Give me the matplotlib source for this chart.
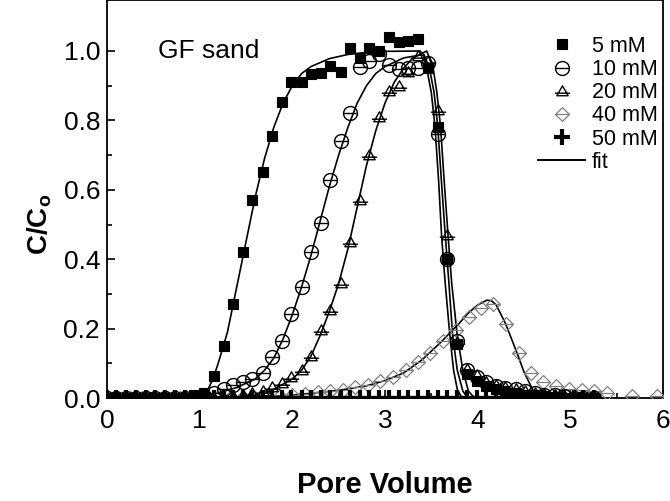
import matplotlib
matplotlib.use("Agg")
import matplotlib.pyplot as plt
from matplotlib.path import Path
from matplotlib.lines import Line2D

plt.rcParams.update({
    "font.family": ["Liberation Sans", "DejaVu Sans"],
    "mathtext.fontset": "custom",
    "mathtext.rm": "Liberation Sans",
    "mathtext.bf": "Liberation Sans:bold",
})

# ── Data ──────────────────────────────────────────────────────────────────────
PV = [0.00, 0.10, 0.21, 0.31, 0.42, 0.52, 0.63, 0.73, 0.84, 0.94,
      1.05, 1.15, 1.26, 1.36, 1.47, 1.57, 1.68, 1.78, 1.89, 1.99,
      2.10, 2.20, 2.31, 2.41, 2.52, 2.62, 2.73, 2.83, 2.94, 3.04,
      3.15, 3.25, 3.36, 3.46, 3.57, 3.67, 3.78, 3.88, 3.99, 4.09,
      4.20, 4.30, 4.41, 4.51, 4.62, 4.72, 4.83, 4.93, 5.04, 5.14, 5.25]

C_5MM = [0, 0, 0, 0, 0, 0, 0, 0, 0, 0.01,
         0.015, 0.064, 0.15, 0.27, 0.42, 0.57, 0.65, 0.755, 0.853, 0.912,
         0.912, 0.933, 0.936, 0.957, 0.94, 1.01, 0.98, 1.01, 1.00, 1.04,
         1.027, 1.03, 1.035, 0.95, 0.78, 0.40, 0.155, 0.07, 0.05, 0.035,
         0.025, 0.02, 0.015, 0.01, 0.008, 0.005, 0.003, 0, 0, 0, 0]

C_10MM = [0, 0, 0, 0, 0, 0, 0, 0, 0, 0,
          0.005, 0.015, 0.027, 0.037, 0.045, 0.056, 0.072, 0.117, 0.163, 0.243,
          0.32, 0.42, 0.504, 0.627, 0.74, 0.82, 0.955, 0.97, 0.99, 0.96,
          0.947, 0.95, 0.95, 0.965, 0.76, 0.40, 0.165, 0.08, 0.06, 0.045,
          0.035, 0.03, 0.025, 0.02, 0.015, 0.01, 0.01, 0.005, 0, 0, 0]

C_20MM = [0, 0, 0, 0, 0, 0, 0, 0, 0, 0,
          0, 0, 0, 0.005, 0.01, 0.015, 0.02, 0.032, 0.043, 0.06,
          0.08, 0.12, 0.195, 0.255, 0.33, 0.45, 0.57, 0.70, 0.81, 0.885,
          0.90, 0.94, 0.985, 0.97, 0.83, 0.47, 0.16, 0.085, 0.065, 0.045,
          0.037, 0.032, 0.025, 0.02, 0.015, 0.012, 0.01, 0.008, 0.005, 0, 0]

C_50MM = [0, 0, 0, 0, 0, 0, 0, 0, 0, 0,
          0, 0, 0, 0, 0, 0, 0, 0, 0, 0,
          0, 0, 0, 0, 0, 0, 0, 0, 0, 0,
          0, 0, 0, 0, 0, 0, 0, 0, 0, 0,
          0, 0, 0, 0, 0, 0, 0, 0, 0, 0, 0]

PV_40 = [0.11, 0.25, 0.38, 0.52, 0.65, 0.79, 0.92, 1.06, 1.19, 1.33,
         1.46, 1.60, 1.73, 1.87, 2.00, 2.14, 2.28, 2.41, 2.55, 2.68,
         2.82, 2.95, 3.09, 3.23, 3.36, 3.49, 3.63, 3.77, 3.91, 4.04,
         4.17, 4.31, 4.45, 4.58, 4.71, 4.85, 4.99, 5.13, 5.26, 5.40,
         5.67, 5.93]
C_40MM = [0, 0, 0, 0, 0, 0, 0, 0, 0, 0,
          0, 0, 0.003, 0.005, 0.008, 0.012, 0.017, 0.02, 0.024, 0.032,
          0.037, 0.048, 0.061, 0.08, 0.104, 0.13, 0.165, 0.197, 0.232, 0.258,
          0.272, 0.213, 0.13, 0.072, 0.045, 0.035, 0.027, 0.024, 0.019, 0.013,
          0.005, 0.005]

# fitted curves
FIT5_X = [0.0, 1.0, 1.05, 1.1, 1.15, 1.2, 1.3, 1.4, 1.5, 1.6, 1.7, 1.8, 1.9, 2.0,
          2.1, 2.2, 2.4, 2.6, 2.8, 3.0, 3.38, 3.42, 3.45, 3.5, 3.54, 3.58, 3.61,
          3.65, 3.7, 3.74, 3.78, 3.82, 3.87, 5.3]
FIT5_Y = [0.0, 0.0, 0.005, 0.03, 0.06, 0.1, 0.19, 0.32, 0.45, 0.58, 0.69, 0.78, 0.85, 0.9,
          0.935, 0.955, 0.978, 0.99, 0.996, 0.999, 1.0, 0.985, 0.95, 0.88, 0.78, 0.62, 0.47,
          0.33, 0.18, 0.08, 0.025, 0.005, 0.0, 0.0]

FIT10_X = [0.0, 1.0, 1.2, 1.4, 1.6, 1.7, 1.8, 1.9, 2.0, 2.1, 2.2, 2.3, 2.4, 2.5, 2.6,
           2.7, 2.8, 2.9, 3.0, 3.2, 3.42, 3.48, 3.53, 3.57, 3.61, 3.65, 3.69, 3.73,
           3.78, 3.84, 3.88, 3.93, 5.3]
FIT10_Y = [0.0, 0.0, 0.015, 0.03, 0.055, 0.08, 0.115, 0.17, 0.24, 0.32, 0.41, 0.51, 0.61, 0.70, 0.78,
           0.85, 0.9, 0.935, 0.955, 0.98, 0.99, 0.95, 0.88, 0.78, 0.62, 0.47, 0.33, 0.18,
           0.08, 0.02, 0.005, 0.0, 0.0]

FIT20_X = [0.0, 1.4, 1.6, 1.8, 2.0, 2.1, 2.2, 2.3, 2.4, 2.5, 2.6, 2.7, 2.8, 2.9, 3.0,
           3.1, 3.2, 3.3, 3.45, 3.52, 3.56, 3.6, 3.64, 3.68, 3.72, 3.78, 3.84, 3.9,
           3.95, 4.0, 5.3]
FIT20_Y = [0.0, 0.0, 0.008, 0.025, 0.055, 0.08, 0.12, 0.18, 0.25, 0.33, 0.43, 0.55, 0.67, 0.77, 0.85,
           0.91, 0.95, 0.98, 1.0, 0.95, 0.88, 0.78, 0.62, 0.47, 0.33, 0.18, 0.08, 0.02,
           0.005, 0.0, 0.0]

FIT40_X = [0.0, 1.5, 2.0, 2.5, 2.8, 3.0, 3.2, 3.4, 3.6, 3.8, 3.9, 4.0, 4.1, 4.15,
           4.2, 4.3, 4.42, 4.5, 4.57, 4.64, 5.3]
FIT40_Y = [0.0, 0.0, 0.008, 0.022, 0.035, 0.05, 0.072, 0.11, 0.16, 0.215, 0.245, 0.268, 0.282, 0.28,
           0.268, 0.215, 0.133, 0.075, 0.037, 0.0, 0.0]

LABELS = ["5 mM", "10 mM", "20 mM", "40 mM", "50 mM", "fit"]

GREY = "#808080"

# ── Custom markers: open shapes crossed by a horizontal bar ───────────────────
def _with_bar(shape, half_width, y=0.0):
    bar = Path([(-half_width, y), (half_width, y)], [Path.MOVETO, Path.LINETO])
    return Path.make_compound_path(shape, bar)

CIRCLE_BAR = _with_bar(Path.unit_circle(), 1.0)
TRI_BAR = _with_bar(Path([(-1, -0.75), (1, -0.75), (0, 1.0), (-1, -0.75)],
                         [Path.MOVETO, Path.LINETO, Path.LINETO, Path.CLOSEPOLY]), 1.35, -0.3)
DIAMOND_BAR = _with_bar(Path([(0, 1), (1, 0), (0, -1), (-1, 0), (0, 1)],
                             [Path.MOVETO, Path.LINETO, Path.LINETO, Path.LINETO, Path.CLOSEPOLY]), 1.0)

STYLES = {
    "5mM":  dict(marker="s", ms=7, mfc="black", mec="black", mew=0.8),
    "10mM": dict(marker=CIRCLE_BAR, ms=10, mfc="none", mec="black", mew=1.0),
    "20mM": dict(marker=TRI_BAR, ms=11, mfc="none", mec="black", mew=1.0),
    "40mM": dict(marker=DIAMOND_BAR, ms=10, mfc="none", mec=GREY, mew=0.9),
    "50mM": dict(marker="+", ms=12, mec="black", mew=3.0),
}

fig = plt.figure(figsize=(6.7, 5.01), dpi=100)
# axes box: x from 107 px to 663 px, y from 398 px (bottom) up past the top edge
ax = fig.add_axes([107 / 670, 103 / 501, 556 / 670, 398 / 501])

for fx, fy in [(FIT5_X, FIT5_Y), (FIT10_X, FIT10_Y), (FIT20_X, FIT20_Y), (FIT40_X, FIT40_Y)]:
    ax.plot(fx, fy, color="black", lw=1.2, zorder=3)

ax.plot(PV_40, C_40MM, ls="none", zorder=4, **STYLES["40mM"])
ax.plot(PV, C_50MM, ls="none", zorder=5, **STYLES["50mM"])
ax.plot(PV, C_20MM, ls="none", zorder=6, **STYLES["20mM"])
ax.plot(PV, C_10MM, ls="none", zorder=7, **STYLES["10mM"])
ax.plot(PV, C_5MM, ls="none", zorder=8, **STYLES["5mM"])

ax.set_xlim(0, 6)
ax.set_ylim(0, 398 / 347)
ax.set_xticks([0, 1, 2, 3, 4, 5, 6])
ax.set_xticks([0.5, 1.5, 2.5, 3.5, 4.5, 5.5], minor=True)
ax.set_yticks([0.0, 0.2, 0.4, 0.6, 0.8, 1.0])
ax.set_yticks([0.1, 0.3, 0.5, 0.7, 0.9], minor=True)
ax.set_yticklabels(["0.0", "0.2", "0.4", "0.6", "0.8", "1.0"])
ax.tick_params(which="both", direction="in", labelsize=19, width=1.2)
ax.tick_params(which="major", length=6)
ax.tick_params(which="minor", length=3.5)
ax.tick_params(axis="y", which="major", pad=5)
ax.tick_params(axis="x", which="major", pad=8)
for sp in ax.spines.values():
    sp.set_linewidth(1.3)

ax.set_xlabel("Pore Volume", fontsize=21, fontweight="bold")
ax.xaxis.set_label_coords(0.5, -0.183)
ax.set_ylabel(r"C/C$_\mathbf{o}$", fontsize=20, fontweight="bold")
ax.yaxis.set_label_coords(-0.095, 0.435)

ax.text(0.55, 1.0, "GF sand", fontsize=19, ha="left", va="center")

handles = [Line2D([], [], ls="none", **STYLES[k]) for k in ["5mM", "10mM", "20mM", "40mM", "50mM"]]
handles.append(Line2D([], [], color="black", lw=1.4))
ax.legend(handles, LABELS, loc="upper left", bbox_to_anchor=(538 / 670, 1 - 36 / 501),
          bbox_transform=fig.transFigure, frameon=False, fontsize=15.5,
          handlelength=2.2, handletextpad=0.3, labelspacing=0.1, borderpad=0,
          borderaxespad=0)

fig.savefig("out.png", dpi=100)
